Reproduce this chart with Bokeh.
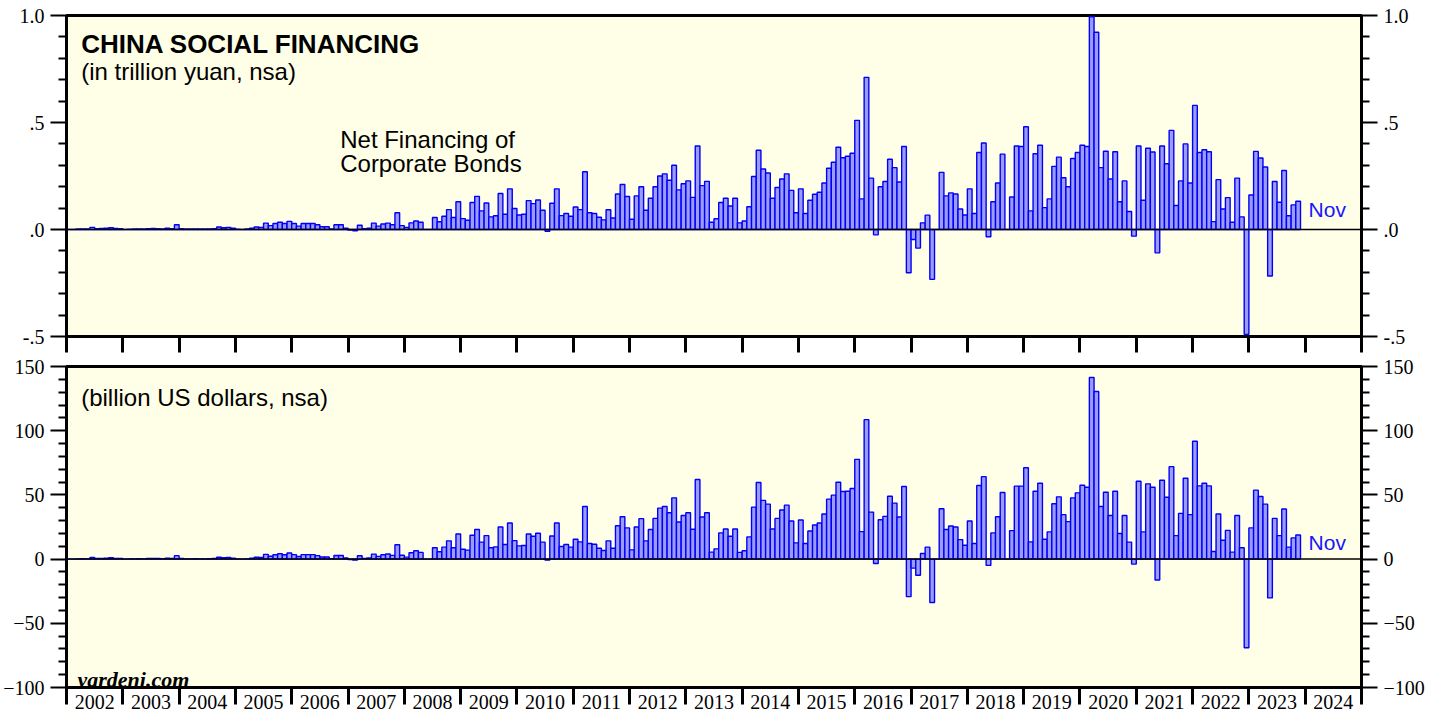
from bokeh.plotting import figure
from bokeh.models import (FixedTicker, LinearAxis, Span, Label, Range1d,
                          CustomJSTickFormatter, ColumnDataSource)
from bokeh.layouts import column
from bokeh.embed import file_html
from bokeh.resources import INLINE

# ---------------- data (monthly, Jan 2002 .. Nov 2023) ----------------
start_year = 2002
end_year = 2025
last_label = "Nov"

yuan_trillion = [
    0.0, 0.0, 0.002, 0.003, 0.002, 0.01, 0.004, 0.005, 0.006, 0.008, 0.005, 0.004,          # 2002
    0.0, 0.001, 0.002, 0.003, 0.002, 0.004, 0.005, 0.004, 0.003, 0.006, 0.004, 0.022,       # 2003
    0.004, 0.002, 0.002, 0.003, 0.002, 0.002, 0.003, 0.004, 0.012, 0.008, 0.01, 0.006,      # 2004
    0.001, 0.0, 0.002, 0.006, 0.012, 0.01, 0.03, 0.018, 0.028, 0.034, 0.028, 0.038,         # 2005
    0.028, 0.016, 0.028, 0.028, 0.028, 0.022, 0.013, 0.013, 0.002, 0.022, 0.022, 0.006,     # 2006
    -0.003, -0.006, 0.02, 0.004, 0.006, 0.03, 0.016, 0.026, 0.03, 0.022, 0.078, 0.018,     # 2007
    0.01, 0.031, 0.04, 0.034, 0.0, 0.0, 0.056, 0.036, 0.062, 0.093, 0.056, 0.13,            # 2008
    0.051, 0.043, 0.126, 0.155, 0.087, 0.124, 0.059, 0.064, 0.168, 0.071, 0.19, 0.098,     # 2009
    0.068, 0.071, 0.135, 0.121, 0.138, 0.09, -0.008, 0.123, 0.19, 0.065, 0.075, 0.062,     # 2010
    0.105, 0.093, 0.27, 0.078, 0.075, 0.057, 0.045, 0.092, 0.054, 0.166, 0.21, 0.154,      # 2011
    0.048, 0.157, 0.2, 0.09, 0.146, 0.2, 0.25, 0.26, 0.23, 0.3, 0.185, 0.214,              # 2012
    0.227, 0.15, 0.39, 0.205, 0.225, 0.034, 0.05, 0.126, 0.146, 0.11, 0.146, 0.031,        # 2013
    0.04, 0.106, 0.248, 0.37, 0.283, 0.264, 0.146, 0.196, 0.236, 0.26, 0.183, 0.078,       # 2014
    0.19, 0.075, 0.137, 0.165, 0.174, 0.217, 0.286, 0.314, 0.384, 0.335, 0.342, 0.356,     # 2015
    0.51, 0.143, 0.711, 0.24, -0.025, 0.2, 0.224, 0.328, 0.289, 0.222, 0.388, -0.202,      # 2016
    -0.047, -0.087, 0.031, 0.067, -0.233, 0.0, 0.267, 0.157, 0.171, 0.166, 0.096, 0.068,   # 2017
    0.19, 0.075, 0.36, 0.404, -0.034, 0.13, 0.217, 0.352, 0.0, 0.152, 0.39, 0.388,         # 2018
    0.48, 0.087, 0.354, 0.394, 0.102, 0.143, 0.295, 0.338, 0.242, 0.2, 0.332, 0.36,        # 2019
    0.394, 0.388, 0.994, 0.922, 0.289, 0.366, 0.236, 0.363, 0.13, 0.227, 0.084, -0.031,    # 2020
    0.39, 0.137, 0.38, 0.362, -0.109, 0.39, 0.307, 0.463, 0.112, 0.227, 0.4, 0.217,        # 2021
    0.58, 0.36, 0.373, 0.363, 0.037, 0.233, 0.096, 0.149, 0.034, 0.24, 0.059, -0.49,       # 2022
    0.161, 0.365, 0.334, 0.292, -0.217, 0.224, 0.127, 0.276, 0.064, 0.115, 0.132,          # 2023
]

usd_billion = [
    0.0, 0.0, 0.2, 0.4, 0.2, 1.2, 0.5, 0.6, 0.7, 1.0, 0.6, 0.5,                # 2002
    0.0, 0.1, 0.2, 0.4, 0.2, 0.5, 0.6, 0.5, 0.4, 0.7, 0.5, 2.7,                # 2003
    0.5, 0.2, 0.2, 0.4, 0.2, 0.2, 0.4, 0.5, 1.4, 1.0, 1.2, 0.7,                # 2004
    0.1, 0.0, 0.2, 0.7, 1.4, 1.2, 3.7, 2.2, 3.4, 4.2, 3.4, 4.7,                # 2005
    3.5, 2.0, 3.5, 3.5, 3.5, 2.7, 1.6, 1.6, 0.3, 2.8, 2.8, 0.8,                # 2006
    -0.4, -0.8, 2.6, 0.5, 0.8, 3.9, 2.1, 3.4, 4.0, 2.9, 11.2, 3.0,             # 2007
    1.5, 4.9, 6.5, 5.2, 0.0, 0.0, 8.8, 5.7, 9.3, 14.2, 8.8, 19.6,              # 2008
    7.7, 7.0, 18.6, 23.0, 13.2, 18.3, 8.8, 9.5, 25.0, 11.4, 28.1, 14.4,        # 2009
    10.3, 10.6, 19.6, 17.8, 20.1, 13.2, -0.8, 18.0, 28.1, 9.8, 11.4, 9.3,      # 2010
    15.5, 13.4, 41.0, 12.1, 11.6, 8.5, 6.7, 14.2, 8.5, 26.0, 33.0, 24.3,       # 2011
    7.2, 25.0, 31.5, 14.2, 23.0, 31.7, 39.7, 41.0, 36.1, 47.7, 28.9, 34.0,     # 2012
    36.1, 23.2, 62.0, 32.8, 36.1, 5.4, 8.0, 20.4, 23.5, 17.8, 23.5, 5.2,       # 2013
    6.5, 17.3, 40.5, 59.6, 45.7, 42.8, 23.5, 31.7, 38.2, 42.0, 29.7, 12.6,     # 2014
    30.4, 12.1, 21.9, 26.6, 28.1, 35.1, 46.7, 49.8, 59.9, 52.6, 52.9, 55.0,    # 2015
    77.7, 21.4, 108.6, 36.6, -3.4, 30.7, 33.3, 49.0, 43.6, 32.8, 56.5, -29.2,  # 2016
    -7.0, -12.6, 4.4, 9.3, -33.8, 0.0, 39.2, 23.0, 25.8, 25.0, 15.2, 10.8,     # 2017
    29.7, 12.1, 57.3, 64.2, -4.9, 20.4, 33.0, 51.9, 0.0, 22.2, 56.8, 56.8,     # 2018
    71.2, 13.4, 52.9, 59.1, 15.5, 21.2, 43.1, 48.5, 34.6, 29.2, 47.7, 51.6,    # 2019
    57.5, 56.0, 141.4, 130.5, 41.0, 52.1, 34.0, 52.9, 19.9, 34.0, 13.2, -3.9, # 2020
    60.6, 21.2, 58.6, 56.0, -16.3, 61.4, 48.2, 72.0, 18.3, 35.6, 63.0, 34.6,   # 2021
    91.8, 57.0, 59.1, 57.0, 5.9, 35.1, 14.7, 22.4, 5.4, 34.0, 8.8, -69.1,      # 2022
    24.3, 53.7, 48.8, 42.8, -30.2, 31.7, 18.3, 39.0, 9.3, 16.5, 18.8,          # 2023
]

year_labels = [str(y) for y in range(start_year, end_year)]

top_ticks = [-0.5, 0.0, 0.5, 1.0]
top_minor = [-0.4, -0.3, -0.2, -0.1, 0.1, 0.2, 0.3, 0.4, 0.6, 0.7, 0.8, 0.9]
bot_ticks = [-100, -50, 0, 50, 100, 150]
bot_minor = [v for v in range(-90, 150, 10) if v % 50 != 0]

# ---------------- styling ----------------
BG = "#FFFEE6"
BAR_FILL = "#9C9CFF"
BAR_LINE = "#0000F5"
SERIF = "Liberation Serif"
SANS = "Liberation Sans"

month_x = [start_year + (i + 0.5) / 12.0 for i in range(len(yuan_trillion))]
year_bounds = list(range(start_year, end_year + 1))
year_mids = [y + 0.5 for y in range(start_year, end_year)]

FRAME_W = 1295
FRAME_H = 321


def style_y_axis(ax, ticks, minor, fmt=None):
    ax.ticker = FixedTicker(ticks=ticks, minor_ticks=minor)
    if fmt is not None:
        ax.formatter = fmt
    ax.axis_line_color = None
    ax.major_tick_out = 16
    ax.major_tick_in = 0
    ax.minor_tick_out = 8
    ax.minor_tick_in = 0
    ax.major_tick_line_width = 2
    ax.minor_tick_line_width = 2
    ax.major_tick_line_color = "black"
    ax.minor_tick_line_color = "black"
    ax.major_label_text_font = SERIF
    ax.major_label_text_font_size = "20px"
    ax.major_label_text_color = "black"
    ax.major_label_standoff = 6


def make_fig(yr, border_top, border_bottom):
    p = figure(frame_width=FRAME_W, frame_height=FRAME_H,
               x_range=Range1d(start_year, end_year), y_range=Range1d(*yr),
               output_backend="svg", toolbar_location=None,
               min_border_left=64, min_border_right=68,
               min_border_top=border_top, min_border_bottom=border_bottom,
               background_fill_color=BG, border_fill_color="white",
               outline_line_color="black", outline_line_width=3)
    p.xgrid.visible = False
    p.ygrid.visible = False
    return p


JS_FMT = """
var s = tick.toFixed(1);
if (s.indexOf('-0.') == 0) { s = '-' + s.substring(2); }
else if (s.indexOf('0.') == 0) { s = s.substring(1); }
return s;
"""

# ---------------- top panel: trillion yuan ----------------
p1 = make_fig((-0.5, 1.0), 15, 18)
src1 = ColumnDataSource(dict(x=month_x, top=yuan_trillion))
p1.vbar(x="x", top="top", bottom=0, width=1 / 12.0, source=src1,
        fill_color=BAR_FILL, line_color=BAR_LINE, line_width=1.4)
p1.add_layout(Span(location=0, dimension="width", line_color="black", line_width=1.5))

style_y_axis(p1.yaxis[0], top_ticks, top_minor, CustomJSTickFormatter(code=JS_FMT))
r1 = LinearAxis()
style_y_axis(r1, top_ticks, top_minor, CustomJSTickFormatter(code=JS_FMT))
p1.add_layout(r1, "right")

xa1 = p1.xaxis[0]
xa1.ticker = FixedTicker(ticks=year_bounds)
xa1.axis_line_color = None
xa1.major_tick_out = 16
xa1.major_tick_in = 0
xa1.major_tick_line_width = 3
xa1.major_tick_line_color = "black"
xa1.minor_tick_line_color = None
xa1.major_label_text_font_size = "1px"
xa1.major_label_text_color = None
xa1.major_label_standoff = 0

p1.add_layout(Label(x=2002.261, y=0.8678, text="CHINA SOCIAL FINANCING",
                    text_font=SANS, text_font_style="bold", text_font_size="26px",
                    text_color="black", text_baseline="alphabetic", text_align="left"))
p1.add_layout(Label(x=2002.261, y=0.736, text="(in trillion yuan, nsa)",
                    text_font=SANS, text_font_size="24px",
                    text_color="black", text_baseline="alphabetic", text_align="left"))
p1.add_layout(Label(x=2006.861, y=0.4192, text="Net Financing of",
                    text_font=SANS, text_font_size="24px",
                    text_color="black", text_baseline="alphabetic", text_align="left"))
p1.add_layout(Label(x=2006.861, y=0.3098, text="Corporate Bonds",
                    text_font=SANS, text_font_size="24px",
                    text_color="black", text_baseline="alphabetic", text_align="left"))
p1.add_layout(Label(x=2024.06, y=0.095, text=last_label,
                    text_font=SANS, text_font_size="21px",
                    text_color="#1515FF", text_baseline="alphabetic", text_align="left"))

# ---------------- bottom panel: billion US dollars ----------------
p2 = make_fig((-100, 150), 12, 32)
src2 = ColumnDataSource(dict(x=month_x, top=usd_billion))
p2.vbar(x="x", top="top", bottom=0, width=1 / 12.0, source=src2,
        fill_color=BAR_FILL, line_color=BAR_LINE, line_width=1.4)
p2.add_layout(Span(location=0, dimension="width", line_color="black", line_width=1.5))

style_y_axis(p2.yaxis[0], bot_ticks, bot_minor)
r2 = LinearAxis()
style_y_axis(r2, bot_ticks, bot_minor)
p2.add_layout(r2, "right")

xa2 = p2.xaxis[0]
xa2.ticker = FixedTicker(ticks=year_mids, minor_ticks=year_bounds)
xa2.formatter = CustomJSTickFormatter(code="return Math.floor(tick).toString();")
xa2.axis_line_color = None
xa2.major_tick_out = 0
xa2.major_tick_in = 0
xa2.major_tick_line_color = None
xa2.minor_tick_out = 17
xa2.minor_tick_in = 0
xa2.minor_tick_line_width = 3
xa2.minor_tick_line_color = "black"
xa2.major_label_text_font = SERIF
xa2.major_label_text_font_size = "20px"
xa2.major_label_text_color = "black"
xa2.major_label_standoff = -10

p2.add_layout(Label(x=2002.261, y=125.9, text="(billion US dollars, nsa)",
                    text_font=SANS, text_font_size="24px",
                    text_color="black", text_baseline="alphabetic", text_align="left"))
p2.add_layout(Label(x=2024.06, y=13.1, text=last_label,
                    text_font=SANS, text_font_size="21px",
                    text_color="#1515FF", text_baseline="alphabetic", text_align="left"))
p2.add_layout(Label(x=2002.195, y=-94.0, text="yardeni.com",
                    text_font=SERIF, text_font_style="bold italic", text_font_size="22px",
                    text_color="black", text_baseline="alphabetic", text_align="left"))

layout = column(p1, p2, spacing=0)
open("out.html", "w").write(file_html(layout, INLINE))
